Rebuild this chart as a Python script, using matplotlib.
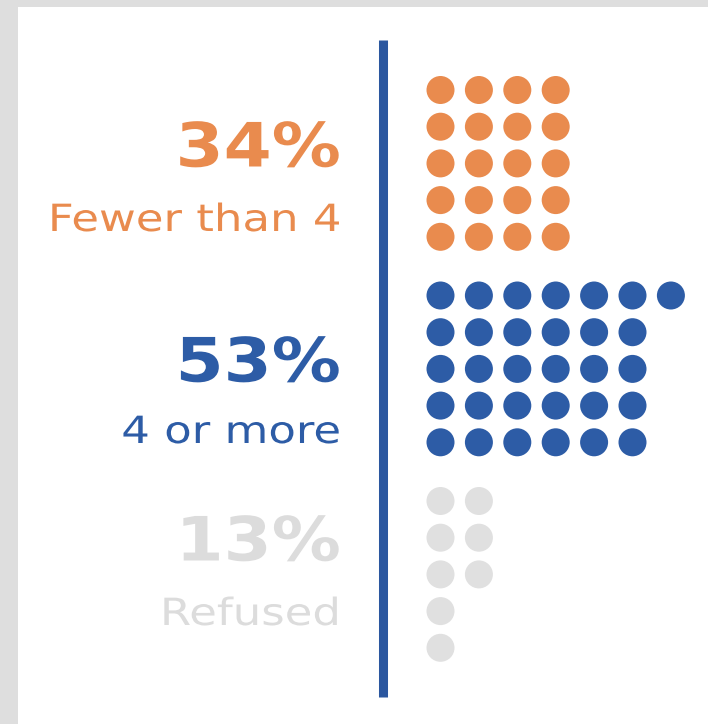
import matplotlib
matplotlib.use("Agg")
import matplotlib.pyplot as plt
from matplotlib.patheffects import AbstractPathEffect
from matplotlib.transforms import Affine2D

# ---- data ----
categories = ["Fewer than 4", "4 or more", "Refused"]
percents = [34, 53, 13]
# number of dots in each row of each group
row_counts = [
    [4, 4, 4, 4, 4],
    [7, 6, 6, 6, 6],
    [2, 2, 2, 1, 1],
]
colors = ["#E98B4E", "#2D5CA6", "#E0E0E0"]
text_colors = ["#E98B4E", "#2D5CA6", "#DCDCDC"]


class HStretch(AbstractPathEffect):
    """Widen rendered text horizontally around a fixed pixel x (right edge)."""

    def __init__(self, sx, pivot_x):
        super().__init__()
        self.sx = sx
        self.px = pivot_x

    def draw_path(self, renderer, gc, tpath, affine, rgbFace=None):
        aff = affine + Affine2D().translate(-self.px, 0).scale(self.sx, 1).translate(self.px, 0)
        renderer.draw_path(gc, tpath, aff, rgbFace)


# ---- layout (pixels) ----
W, H = 708, 724
fig = plt.figure(figsize=(W / 100, H / 100), dpi=100)
fig.patch.set_facecolor("#DEDEDE")
ax = fig.add_axes([0, 0, 1, 1])
ax.set_xlim(0, W)
ax.set_ylim(H, 0)
ax.axis("off")

# white panel
ax.add_patch(plt.Rectangle((18, 7), W - 18, H - 7, facecolor="white", edgecolor="none", zorder=0))

# vertical divider
ax.plot([383, 383], [40, 697], color="#2B579F", lw=6.5, solid_capstyle="butt", zorder=2)

x0, dx = 440.5, 38.4
dy = 36.7
group_starts = [90, 295.5, 501]
dot_r = 14

for g, (counts, col) in enumerate(zip(row_counts, colors)):
    for r, n in enumerate(counts):
        for c in range(n):
            ax.add_patch(plt.Circle((x0 + c * dx, group_starts[g] + r * dy), dot_r,
                                    facecolor=col, edgecolor="none", zorder=3))

right_x = 341
pct_y = [150, 365, 544]
sub_y = [221, 433, 615]
for g in range(3):
    ax.text(right_x, pct_y[g], f"{percents[g]}%", ha="right", va="center",
            fontsize=44, fontweight="bold", color=text_colors[g],
            family="DejaVu Sans", path_effects=[HStretch(1.13, right_x)])
    ax.text(right_x, sub_y[g], categories[g], ha="right", va="center",
            fontsize=27, fontweight="normal", color=text_colors[g],
            family="DejaVu Sans", path_effects=[HStretch(1.2, right_x)])

fig.savefig("out.png", dpi=100, facecolor=fig.get_facecolor())
